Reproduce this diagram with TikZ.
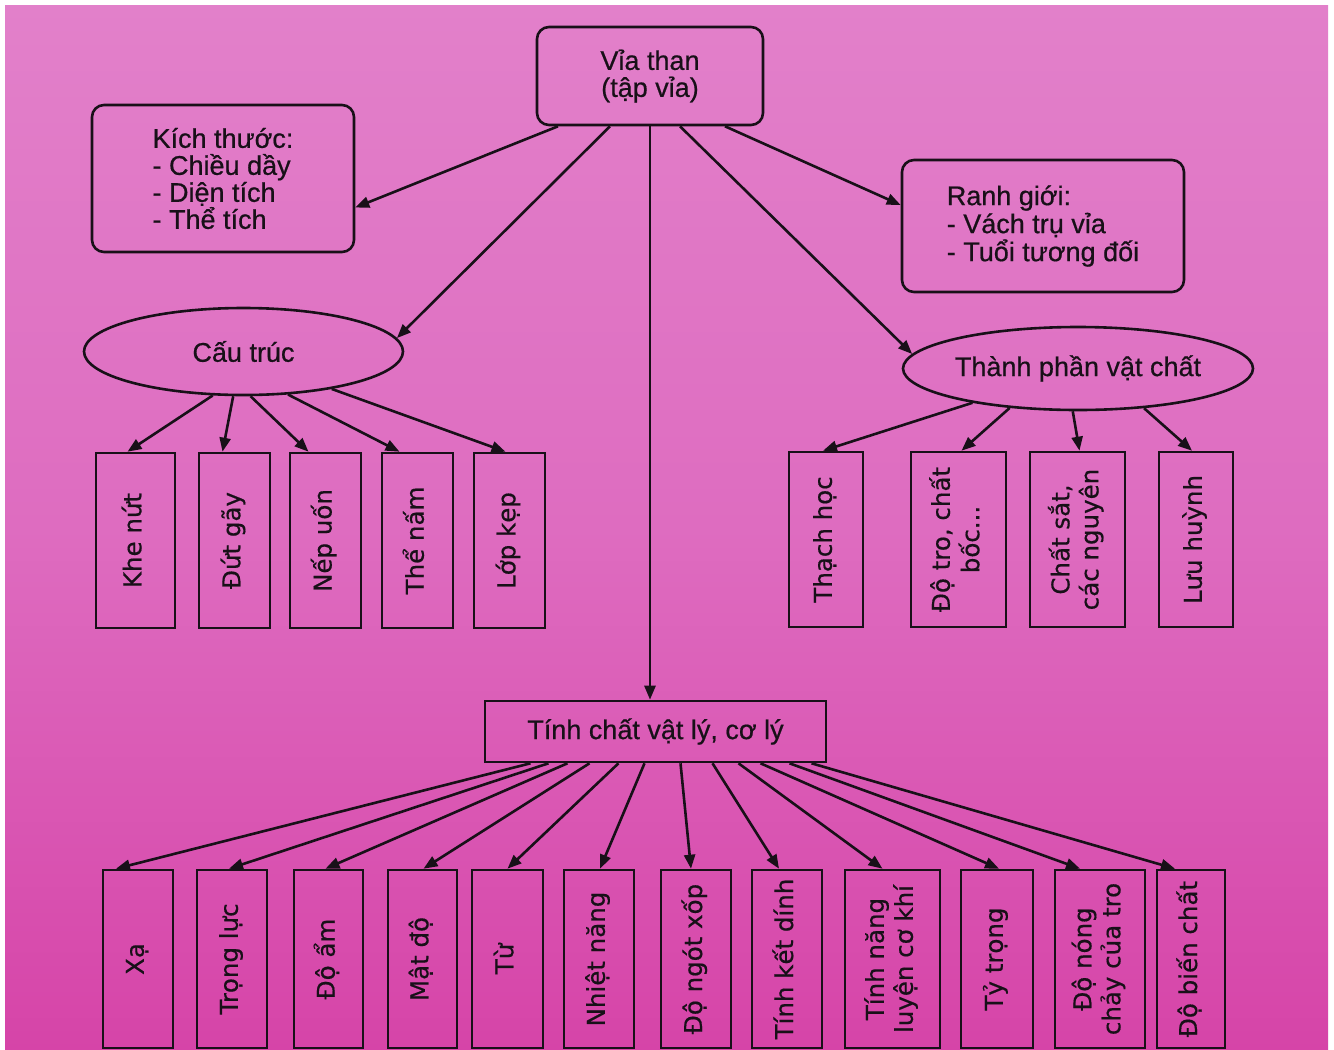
\documentclass[tikz,border=0pt]{standalone}
\usepackage{fontspec}
\setmainfont{Liberation Sans}[FakeBold=0.6]
\newfontfamily\vfont{DejaVu Sans}[FakeBold=0.5]
\usetikzlibrary{shapes.geometric,arrows.meta,calc}
\definecolor{bgtop}{RGB}{226,128,202}
\definecolor{bgmid}{RGB}{222,108,192}
\definecolor{bgbot}{RGB}{214,68,168}
\definecolor{ink}{RGB}{24,16,24}
\newcommand{\vtxt}[1]{\rotatebox{90}{\vfont\fontsize{24.5}{29}\selectfont\begin{tabular}{@{}c@{}}#1\end{tabular}}}
\begin{document}
\begin{tikzpicture}[x=1pt,y=-1pt,
  box/.style={draw=ink, line width=2.6pt, inner sep=0pt, text=ink},
  rbox/.style={box, rounded corners=12pt, font=\fontsize{27}{27}\selectfont},
  ell/.style={box, ellipse, font=\fontsize{27}{27}\selectfont},
  vbox/.style={box},
  arr/.style={draw=ink, line width=2.6pt, -{Triangle[length=14pt,width=11pt]}}]
\useasboundingbox (0,0) rectangle (1334,1050);
\fill[white] (0,0) rectangle (1334,1050);
\fill[top color=bgtop, bottom color=bgbot, middle color=bgmid] (5,5) rectangle (1328,1050);

% main nodes
\node[rbox, minimum width=226, minimum height=98, align=center] (vt) at (650,76) {Vỉa than\\(tập vỉa)};
\node[rbox, minimum width=262, minimum height=147, align=left] (kt) at (223,178.5) {Kích thước:\\- Chiều dầy\\- Diện tích\\- Thể tích};
\node[rbox, minimum width=282, minimum height=132, align=left, font=\fontsize{27}{28}\selectfont] (rg) at (1043,226) {Ranh giới:\\- Vách trụ vỉa\\- Tuổi tương đối};
\node[ell, minimum width=319, minimum height=87] (ct) at (243.5,351.5) {Cấu trúc};
\node[ell, minimum width=350, minimum height=83] (tp) at (1078,368.5) {Thành phần vật chất};
\node[box, minimum width=341, minimum height=61, font=\fontsize{27}{27}\selectfont] (tc) at (655.5,731.5) {Tính chất vật lý, cơ lý};

% structure boxes
\node[vbox, minimum width=79, minimum height=175] (s1) at (135.5,540.5) {\vtxt{Khe nứt}};
\node[vbox, minimum width=71, minimum height=175] (s2) at (234.5,540.5) {\vtxt{Đứt gãy}};
\node[vbox, minimum width=71, minimum height=175] (s3) at (325.5,540.5) {\vtxt{Nếp uốn}};
\node[vbox, minimum width=71, minimum height=175] (s4) at (417.5,540.5) {\vtxt{Thể nấm}};
\node[vbox, minimum width=71, minimum height=175] (s5) at (509.5,540.5) {\vtxt{Lớp kẹp}};

% composition boxes
\node[vbox, minimum width=74, minimum height=175] (c1) at (826,539.5) {\vtxt{Thạch học}};
\node[vbox, minimum width=95, minimum height=175] (c2) at (958.5,539.5) {\vtxt{Độ tro, chất\\bốc...}};
\node[vbox, minimum width=95, minimum height=175] (c3) at (1077.5,539.5) {\vtxt{Chất sắt,\\các nguyên}};
\node[vbox, minimum width=74, minimum height=175] (c4) at (1196,539.5) {\vtxt{Lưu huỳnh}};

% property boxes
\node[vbox, minimum width=70, minimum height=178] (b1) at (138,959) {\vtxt{Xạ}};
\node[vbox, minimum width=70, minimum height=178] (b2) at (232,959) {\vtxt{Trọng lực}};
\node[vbox, minimum width=69, minimum height=178] (b3) at (328.5,959) {\vtxt{Độ ẩm}};
\node[vbox, minimum width=69, minimum height=178] (b4) at (422.5,959) {\vtxt{Mật độ}};
\node[vbox, minimum width=71, minimum height=178] (b5) at (507.5,959) {\vtxt{Từ}};
\node[vbox, minimum width=70, minimum height=178] (b6) at (599,959) {\vtxt{Nhiệt năng}};
\node[vbox, minimum width=70, minimum height=178] (b7) at (696,959) {\vtxt{Độ ngót xốp}};
\node[vbox, minimum width=70, minimum height=178] (b8) at (787,959) {\vtxt{Tính kết dính}};
\node[vbox, minimum width=95, minimum height=178] (b9) at (892.5,959) {\vtxt{Tính năng\\luyện cơ khí}};
\node[vbox, minimum width=72, minimum height=178] (b10) at (997,959) {\vtxt{Tỷ trọng}};
\node[vbox, minimum width=90, minimum height=178] (b11) at (1100,959) {\vtxt{Độ nóng\\chảy của tro}};
\node[vbox, minimum width=68, minimum height=178] (b12) at (1191,959) {\vtxt{Độ biến chất}};

% arrows from top
\draw[arr] ([xshift=-92pt]vt.south) -- ([yshift=-29pt]kt.east);
\draw[arr] ([xshift=-40pt]vt.south) -- (ct.5);
\draw[arr] (vt.south) -- (vt.south |- tc.north);
\draw[arr] ([xshift=30pt]vt.south) -- (tp.175);
\draw[arr] ([xshift=75pt]vt.south) -- ([yshift=21pt]rg.west);

% structure arrows
\draw[arr] (ct.-125) -- ([xshift=-8pt]s1.north);
\draw[arr] (ct.-103) -- ([xshift=-12pt]s2.north);
\draw[arr] (ct.-81) -- ([xshift=-17pt]s3.north);
\draw[arr] (ct.-44) -- ([xshift=-18pt]s4.north);
\draw[arr] (ct.-23) -- ([xshift=-4pt]s5.north);

% composition arrows
\draw[arr] (tp.-162) -- ([xshift=-3pt]c1.north);
\draw[arr] (tp.-150) -- ([xshift=3pt]c2.north);
\draw[arr] (tp.-97) -- ([xshift=2pt]c3.north);
\draw[arr] (tp.-31) -- ([xshift=-4pt]c4.north);

% property arrows
\draw[arr] ([xshift=-125pt]tc.south) -- ([xshift=-22pt]b1.north);
\draw[arr] ([xshift=-107pt]tc.south) -- ([xshift=-3pt]b2.north);
\draw[arr] ([xshift=-88pt]tc.south) -- ([xshift=-3pt]b3.north);
\draw[arr] ([xshift=-66pt]tc.south) -- ([xshift=1pt]b4.north);
\draw[arr] ([xshift=-37pt]tc.south) -- (b5.north);
\draw[arr] ([xshift=-11pt]tc.south) -- ([xshift=1pt]b6.north);
\draw[arr] ([xshift=25pt]tc.south) -- ([xshift=-5pt]b7.north);
\draw[arr] ([xshift=57pt]tc.south) -- ([xshift=-8pt]b8.north);
\draw[arr] ([xshift=83pt]tc.south) -- ([xshift=-10pt]b9.north);
\draw[arr] ([xshift=105pt]tc.south) -- ([xshift=2pt]b10.north);
\draw[arr] ([xshift=134pt]tc.south) -- ([xshift=-20pt]b11.north);
\draw[arr] ([xshift=156pt]tc.south) -- ([xshift=-16pt]b12.north);
\end{tikzpicture}
\end{document}
